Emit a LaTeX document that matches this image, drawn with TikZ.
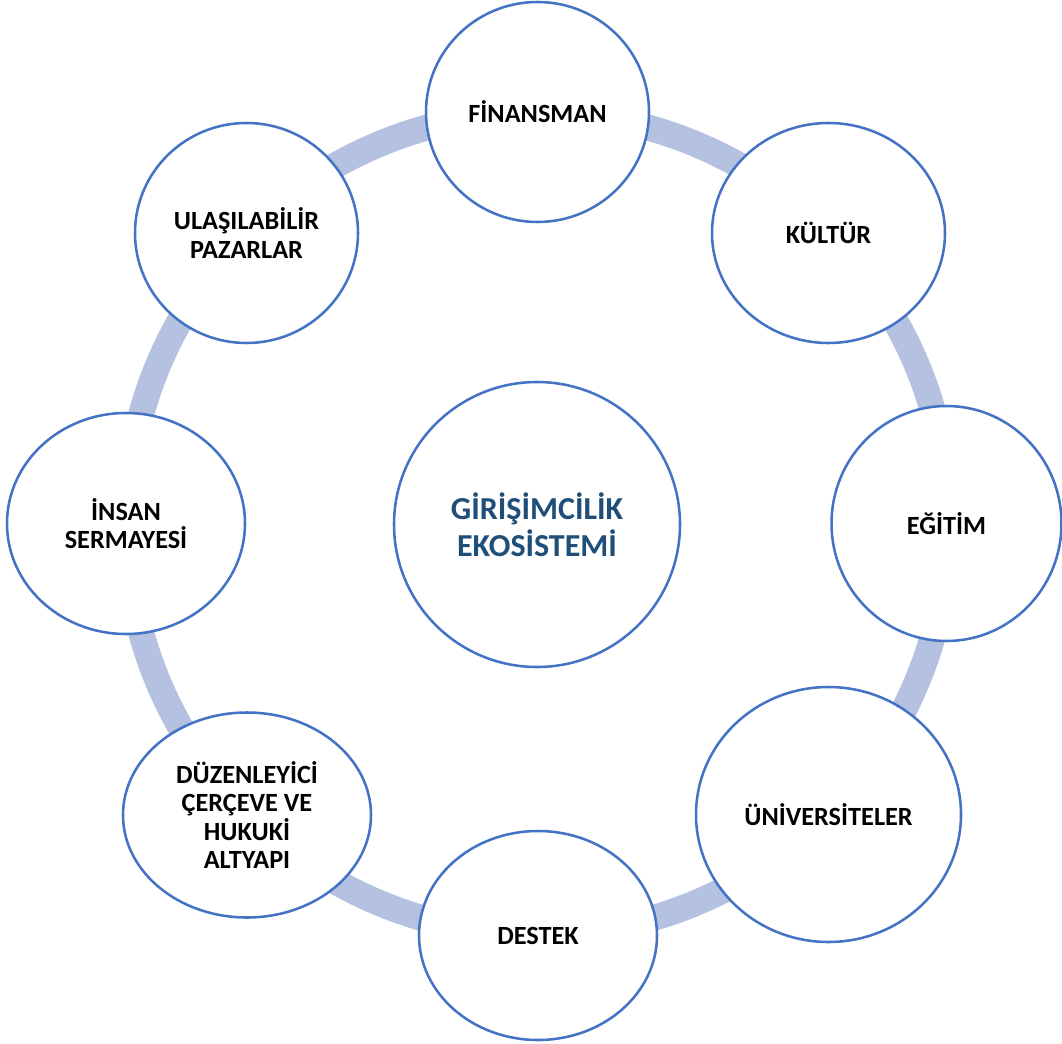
\documentclass[tikz,border=0pt]{standalone}
\usepackage{fontspec}
\setmainfont{Carlito}
\usetikzlibrary{shapes.geometric}
\definecolor{ringblue}{HTML}{B4C1E1}
\definecolor{edgeblue}{HTML}{4472C4}
\definecolor{titleblue}{HTML}{1F4E79}

\begin{document}
\begin{tikzpicture}[x=0.75pt, y=-0.75pt, main/.style = {draw=edgeblue, line width=1.9pt, fill=white, ellipse, inner sep=0pt, align=center, font=\fontsize{19.7}{21.3}\selectfont\bfseries}, ring/.style = {draw=ringblue, line width=19.5pt}]
        \useasboundingbox (0,0) rectangle (1062,1044);

        \node[main, minimum width=214.5pt, minimum height=213.75pt, text=titleblue, font=\fontsize{24}{28}\selectfont\bfseries] (0) at (537,524.5) {GİRİŞİMCİLİK\\EKOSİSTEMİ};

        % ring behind the outer circles
        \draw[ring] (537.5,523.5) circle (411);

        \node[main, minimum width=167.25pt, minimum height=165pt]    (1) at (537.5,112)   {FİNANSMAN};
        \node[main, minimum width=174.75pt, minimum height=165pt]    (2) at (828.5,233)   {KÜLTÜR};
        \node[main, minimum width=172.5pt, minimum height=176.25pt]  (3) at (946.5,523.5) {EĞİTİM};
        \node[main, minimum width=198.75pt, minimum height=191.25pt] (4) at (828.5,814.5) {ÜNİVERSİTELER};
        \node[main, minimum width=178.5pt, minimum height=156.75pt]  (5) at (538,935.5)   {DESTEK};
        \node[main, minimum width=186pt, minimum height=153.75pt]    (6) at (247,815)     {DÜZENLEYİCİ\\ÇERÇEVE VE\\HUKUKİ\\ALTYAPI};
        \node[main, minimum width=178.5pt, minimum height=165.75pt]  (7) at (126,523.5)   {İNSAN\\SERMAYESİ};
        \node[main, minimum width=167.25pt, minimum height=165pt]    (8) at (246.5,233)   {ULAŞILABİLİR\\PAZARLAR};

    \end{tikzpicture}
\end{document}
